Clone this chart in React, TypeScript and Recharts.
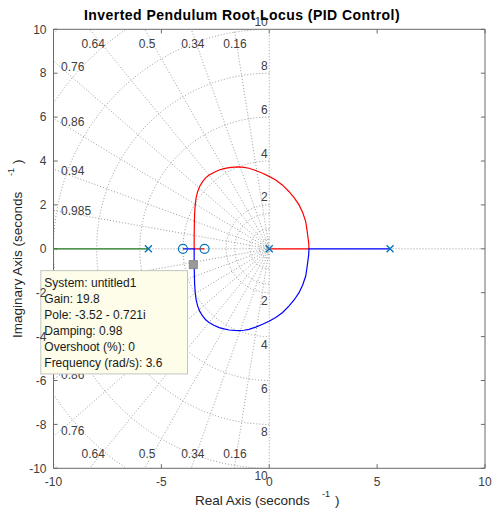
import React from 'react';
import { ComposedChart, Scatter, XAxis, YAxis, ReferenceLine, ReferenceDot } from 'recharts';

// ---- data ----
const xTicks = [-10, -5, 0, 5, 10];
const yTicks = [-10, -8, -6, -4, -2, 0, 2, 4, 6, 8, 10];

const zetaValues = [0.16, 0.34, 0.5, 0.64, 0.76, 0.86, 0.94, 0.985];
const topZetaLabels = [0.16, 0.34, 0.5, 0.64];
const sideZetaLabels = [0.76, 0.86, 0.94, 0.985];
const freqLabels = [2, 4, 6, 8, 10];
const freqCircles = [0.2, 0.45, 0.9, 1.6, 2, 4, 6, 8, 10, 12, 14];

const poles = [{ x: -5.6, y: 0 }, { x: 0, y: 0 }, { x: 5.6, y: 0 }];
const zeros = [{ x: -4, y: 0 }, { x: -3, y: 0 }];

// red branch: pole at 0 -> breakaway 1.84 -> upper arc -> break-in -3.48 -> zero -3
const redX = [0, 1.84, 1.83, 1.8, 1.75, 1.69, 1.55, 1.38, 1.16, 0.92, 0.62, 0.3, -0.01, -0.31, -0.63, -0.94, -1.17, -1.4, -1.63, -1.86, -2.1, -2.32, -2.57, -2.79, -2.96, -3.09, -3.22, -3.32, -3.39, -3.43, -3.46, -3.47, -3.48, -3.48, -3.0];
const redY = [0, 0, 0.25, 0.48, 0.85, 1.24, 1.65, 2.0, 2.32, 2.6, 2.9, 3.13, 3.3, 3.44, 3.57, 3.67, 3.71, 3.73, 3.72, 3.7, 3.65, 3.59, 3.48, 3.36, 3.22, 3.06, 2.85, 2.6, 2.32, 2.0, 1.6, 1.2, 0.6, 0, 0];
// blue branch: pole at 5.6 -> breakaway 1.84 -> lower arc -> break-in -3.48 -> zero -4
const blueX = [5.6, 1.84, 1.83, 1.8, 1.75, 1.69, 1.55, 1.38, 1.16, 0.92, 0.62, 0.3, -0.01, -0.31, -0.63, -0.94, -1.17, -1.4, -1.63, -1.86, -2.1, -2.32, -2.57, -2.79, -2.96, -3.09, -3.22, -3.32, -3.39, -3.43, -3.46, -3.47, -3.48, -3.48, -4.0];
const blueY = [0, 0, -0.25, -0.48, -0.85, -1.24, -1.65, -2.0, -2.32, -2.6, -2.9, -3.13, -3.3, -3.44, -3.57, -3.67, -3.71, -3.73, -3.72, -3.7, -3.65, -3.59, -3.48, -3.36, -3.22, -3.06, -2.85, -2.6, -2.32, -2.0, -1.6, -1.2, -0.6, 0, 0];
// green branch: pole at -5.6 -> -infinity
const greenX = [-5.6, -10];
const greenY = [0, 0];

const tipPoint = { x: -3.52, y: -0.721 };
const tipLines = [
  'System: untitled1',
  'Gain: 19.8',
  'Pole: -3.52 - 0.721i',
  'Damping: 0.98',
  'Overshoot (%): 0',
  'Frequency (rad/s): 3.6',
];

// ---- styling ----
const FONT = '"Liberation Sans", Arial, Helvetica, sans-serif';
const GRID = '#9c9c9c';
const TXT = '#404040';
const BOX = '#6a6a6a';
const MBLUE = '#0072BD';

const toPts = (xs: number[], ys: number[]) => xs.map((x, i) => ({ x, y: ys[i] }));

const semicircle = (r: number) => {
  const pts: { x: number; y: number }[] = [];
  for (let a = 90; a <= 270; a += 2) {
    const t = (a * Math.PI) / 180;
    pts.push({ x: r * Math.cos(t), y: r * Math.sin(t) });
  }
  return pts;
};
const ray = (z: number) => {
  const s = Math.sqrt(1 - z * z);
  return [{ x: -20 * z, y: 20 * s }, { x: 0, y: 0 }, { x: -20 * z, y: -20 * s }];
};

const NoShape = () => <g />;

const XMark = (p: any) => (
  <path d={`M${p.cx - 3.5},${p.cy - 3.5}L${p.cx + 3.5},${p.cy + 3.5}M${p.cx - 3.5},${p.cy + 3.5}L${p.cx + 3.5},${p.cy - 3.5}`} stroke={MBLUE} strokeWidth={1.3} fill="none" />
);
const OMark = (p: any) => <circle cx={p.cx} cy={p.cy} r={4.5} stroke={MBLUE} strokeWidth={1.2} fill="none" />;

const gridLine = { stroke: GRID, strokeWidth: 1, strokeDasharray: '1 2' };

const makeText = (text: string, anchor: string, dx = 0, dy = 0) => (p: any) => (
  <text x={p.cx + dx} y={p.cy + dy} textAnchor={anchor} dominantBaseline="central" fontFamily={FONT} fontSize={12} fill={TXT}>{text}</text>
);

const DataTip = (p: any) => {
  const bx = p.cx - 152.5;
  const by = p.cy + 6;
  return (
    <g>
      <rect x={p.cx - 4} y={p.cy - 4} width={8} height={8} fill="#999999" stroke="#8a8a8a" />
      <rect x={bx} y={by} width={146.7} height={103.3} fill="#fdfde9" stroke="#c4c4c4" />
      {tipLines.map((t, i) => (
        <text key={i} x={bx + 3.5} y={by + 12.5 + 16 * i} dominantBaseline="central" fontFamily={FONT} fontSize={12} fill="#1a1a1a">{t}</text>
      ))}
    </g>
  );
};

const tickX = 0.19;
const tickY = 0.19;

export default function App() {
  return (
    <div style={{ position: 'absolute', left: 0, top: 0, width: 492, height: 509, background: '#fff' }}>
      <ComposedChart width={492} height={509} margin={{ top: 29.3, right: 7, bottom: 10, left: 8.5 }}>
        <XAxis type="number" dataKey="x" domain={[-10, 10]} ticks={xTicks} interval={0} allowDataOverflow
          tickLine={false} axisLine={false} tickSize={0} tickMargin={9} height={30.7}
          tick={{ fill: TXT, fontSize: 12, fontFamily: FONT }} />
        <YAxis type="number" dataKey="y" domain={[-10, 10]} ticks={yTicks} interval={0} allowDataOverflow
          tickLine={false} axisLine={false} tickSize={0} tickMargin={7} width={45}
          tick={{ fill: TXT, fontSize: 12, fontFamily: FONT }} />

        {/* s-grid */}
        {freqCircles.map((r) => (
          <Scatter key={'c' + r} data={semicircle(r)} line={gridLine} lineType="joint" shape={NoShape} isAnimationActive={false} legendType="none" />
        ))}
        {zetaValues.map((z) => (
          <Scatter key={'z' + z} data={ray(z)} line={gridLine} lineType="joint" shape={NoShape} isAnimationActive={false} legendType="none" />
        ))}
        <Scatter data={[{ x: -10, y: 0 }, { x: 10, y: 0 }]} line={gridLine} lineType="joint" shape={NoShape} isAnimationActive={false} />
        <Scatter data={[{ x: 0, y: -10 }, { x: 0, y: 10 }]} line={gridLine} lineType="joint" shape={NoShape} isAnimationActive={false} />

        {/* box and ticks */}
        <ReferenceLine x={-10} stroke={BOX} strokeWidth={1} />
        <ReferenceLine x={10} stroke={BOX} strokeWidth={1} />
        <ReferenceLine y={-10} stroke={BOX} strokeWidth={1} />
        <ReferenceLine y={10} stroke={BOX} strokeWidth={1} />
        {xTicks.map((t) => (
          <ReferenceLine key={'xb' + t} segment={[{ x: t, y: -10 }, { x: t, y: -10 + tickY }]} stroke={BOX} />
        ))}
        {xTicks.map((t) => (
          <ReferenceLine key={'xt' + t} segment={[{ x: t, y: 10 }, { x: t, y: 10 - tickY }]} stroke={BOX} />
        ))}
        {yTicks.map((t) => (
          <ReferenceLine key={'yl' + t} segment={[{ x: -10, y: t }, { x: -10 + tickX, y: t }]} stroke={BOX} />
        ))}
        {yTicks.map((t) => (
          <ReferenceLine key={'yr' + t} segment={[{ x: 10, y: t }, { x: 10 - tickX, y: t }]} stroke={BOX} />
        ))}

        {/* locus */}
        <Scatter data={toPts(greenX, greenY)} line={{ stroke: '#1f7a1f', strokeWidth: 1.2 }} lineType="joint" shape={NoShape} isAnimationActive={false} />
        <Scatter data={toPts(redX, redY)} line={{ stroke: '#ff0000', strokeWidth: 1.2 }} lineType="joint" shape={NoShape} isAnimationActive={false} />
        <Scatter data={toPts(blueX, blueY)} line={{ stroke: '#0000ff', strokeWidth: 1.2 }} lineType="joint" shape={NoShape} isAnimationActive={false} />
        <Scatter data={poles} shape={XMark} isAnimationActive={false} />
        <Scatter data={zeros} shape={OMark} isAnimationActive={false} />

        {/* grid labels */}
        {topZetaLabels.map((z) => {
          const s = Math.sqrt(1 - z * z);
          const xv = (-9.8 * z) / s;
          return [
            <ReferenceDot key={'tz' + z} x={xv} y={9.33} ifOverflow="visible" shape={makeText(String(z), 'middle')} />,
            <ReferenceDot key={'bz' + z} x={xv} y={-9.33} ifOverflow="visible" shape={makeText(String(z), 'middle')} />,
          ];
        })}
        {sideZetaLabels.map((z) => {
          const s = Math.sqrt(1 - z * z);
          const yv = (9.65 * s) / z;
          return [
            <ReferenceDot key={'lz' + z} x={-9.65} y={yv} ifOverflow="visible" shape={makeText(String(z), 'start', 0, -1)} />,
            <ReferenceDot key={'lbz' + z} x={-9.65} y={-yv} ifOverflow="visible" shape={makeText(String(z), 'start', 0, 1)} />,
          ];
        })}
        {freqLabels.map((w) => [
          <ReferenceDot key={'fw' + w} x={0} y={w} ifOverflow="visible" shape={makeText(String(w), 'end', -1.5, -7.5)} />,
          <ReferenceDot key={'fwb' + w} x={0} y={-w} ifOverflow="visible" shape={makeText(String(w), 'end', -1.5, 8)} />,
        ])}

        {/* data tip */}
        <ReferenceDot x={tipPoint.x} y={tipPoint.y} ifOverflow="visible" shape={DataTip} />
      </ComposedChart>
      <svg width={492} height={509} style={{ position: 'absolute', left: 0, top: 0, pointerEvents: 'none' }}>
        <text x={242} y={15} textAnchor="middle" dominantBaseline="central" fontFamily={FONT} fontSize={14} letterSpacing={0.45} fontWeight="bold" fill="#000">Inverted Pendulum Root Locus (PID Control)</text>
        <text x={195} y={500} dominantBaseline="central" fontFamily={FONT} fontSize={13.5} fill="#262626">Real Axis (seconds</text>
        <text x={322} y={494} dominantBaseline="central" fontFamily={FONT} fontSize={9} fill="#262626">-1</text>
        <text x={335} y={500} dominantBaseline="central" fontFamily={FONT} fontSize={13.5} fill="#262626">)</text>
        <text transform="translate(17,338) rotate(-90)" dominantBaseline="central" fontFamily={FONT} fontSize={13.5} fill="#262626">Imaginary Axis (seconds</text>
        <text transform="translate(11,176) rotate(-90)" dominantBaseline="central" fontFamily={FONT} fontSize={9} fill="#262626">-1</text>
        <text transform="translate(17,164) rotate(-90)" dominantBaseline="central" fontFamily={FONT} fontSize={13.5} fill="#262626">)</text>
      </svg>
    </div>
  );
}
